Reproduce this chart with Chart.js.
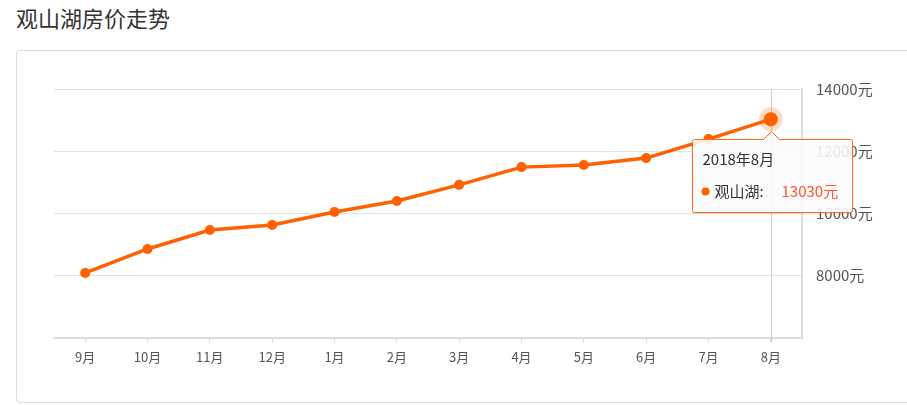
<!DOCTYPE html>
<html>
<head>
<meta charset="utf-8">
<script src="https://cdn.jsdelivr.net/npm/chart.js@4/dist/chart.umd.min.js"></script>
<style>
  body { margin: 0; background: #fff; font-family: "Noto Sans CJK SC", "Noto Sans", sans-serif; }
  #wrap { position: relative; width: 907px; height: 405px; overflow: hidden; }
  #title { position: absolute; left: 16px; top: 4px; font-size: 22px; line-height: 26px; color: #333; }
  #card { position: absolute; left: 16px; top: 50px; width: 1000px; height: 351px; border: 1px solid #ddd; border-radius: 4px; }
  #chart { position: absolute; left: 0; top: 0; }
</style>
</head>
<body>
<div id="wrap">
  <div id="title">观山湖房价走势</div>
  <div id="card"></div>
  <canvas id="chart" width="907" height="405"></canvas>
</div>
<script>
const months = ['9月', '10月', '11月', '12月', '1月', '2月', '3月', '4月', '5月', '6月', '7月', '8月'];
const fullMonths = ['2017年9月', '2017年10月', '2017年11月', '2017年12月', '2018年1月', '2018年2月',
  '2018年3月', '2018年4月', '2018年5月', '2018年6月', '2018年7月', '2018年8月'];
const prices = [8090, 8860, 9470, 9630, 10050, 10400, 10920, 11490, 11560, 11780, 12390, 13030];
const yTicks = [6000, 8000, 10000, 12000, 14000];
const seriesName = '观山湖';
const activeIndex = 11;

const orange = '#ff6000';
const font = '"Noto Sans CJK SC", "Noto Sans", sans-serif';

// vertical line at the hovered month
const crosshair = {
  id: 'crosshair',
  beforeDatasetsDraw(chart) {
    const el = chart.getDatasetMeta(0).data[activeIndex];
    const ctx = chart.ctx, area = chart.chartArea;
    ctx.save();
    ctx.strokeStyle = '#ccc';
    ctx.lineWidth = 1;
    ctx.beginPath();
    ctx.moveTo(Math.round(el.x) + 0.5, area.top);
    ctx.lineTo(Math.round(el.x) + 0.5, area.bottom + 4);
    ctx.stroke();
    ctx.restore();
  }
};

// tooltip box under the point
const tipBox = {
  id: 'tipBox',
  afterDraw(chart) {
    const el = chart.getDatasetMeta(0).data[activeIndex];
    const ctx = chart.ctx;
    const w = 160, h = 73;
    const left = Math.round(el.x) - 79 + 0.5;
    const top = Math.round(el.y) + 20 + 0.5;
    const cx = Math.round(el.x) + 0.5;
    ctx.save();
    ctx.shadowColor = 'rgba(0,0,0,0.15)';
    ctx.shadowBlur = 3;
    ctx.shadowOffsetY = 1;
    ctx.beginPath();
    ctx.moveTo(left + 2, top);
    ctx.lineTo(cx - 8, top);
    ctx.lineTo(cx, top - 8);
    ctx.lineTo(cx + 8, top);
    ctx.lineTo(left + w - 2, top);
    ctx.quadraticCurveTo(left + w, top, left + w, top + 2);
    ctx.lineTo(left + w, top + h - 2);
    ctx.quadraticCurveTo(left + w, top + h, left + w - 2, top + h);
    ctx.lineTo(left + 2, top + h);
    ctx.quadraticCurveTo(left, top + h, left, top + h - 2);
    ctx.lineTo(left, top + 2);
    ctx.quadraticCurveTo(left, top, left + 2, top);
    ctx.closePath();
    ctx.fillStyle = 'rgba(255,255,255,0.88)';
    ctx.fill();
    ctx.shadowColor = 'transparent';
    ctx.strokeStyle = '#ff6a1a';
    ctx.lineWidth = 1;
    ctx.stroke();

    ctx.textBaseline = 'middle';
    ctx.font = '15px ' + font;
    ctx.fillStyle = '#333';
    ctx.fillText(fullMonths[activeIndex], left + 10, top + 20);

    ctx.beginPath();
    ctx.arc(left + 13, top + 52, 4, 0, Math.PI * 2);
    ctx.fillStyle = orange;
    ctx.fill();
    ctx.fillStyle = '#333';
    ctx.fillText(seriesName + ':', left + 22, top + 52);
    ctx.fillStyle = '#ff5533';
    ctx.fillText(prices[activeIndex] + '元', left + 89, top + 52);
    ctx.restore();
  }
};

const chart = new Chart(document.getElementById('chart'), {
  type: 'line',
  data: {
    labels: months,
    datasets: [{
      label: seriesName,
      data: prices,
      borderColor: orange,
      backgroundColor: orange,
      borderWidth: 3.5,
      pointRadius: 5,
      pointBackgroundColor: orange,
      pointBorderWidth: 0,
      pointHoverRadius: 7,
      pointHoverBackgroundColor: orange,
      pointHoverBorderColor: 'rgba(255,96,0,0.22)',
      pointHoverBorderWidth: 10,
      tension: 0
    }]
  },
  options: {
    responsive: false,
    animation: false,
    events: [],
    layout: { padding: { left: 54, top: 89, right: 0, bottom: 0 } },
    plugins: {
      legend: { display: false },
      tooltip: { enabled: false }
    },
    scales: {
      x: {
        offset: true,
        afterFit(scale) { scale.height = 67; },
        grid: { offset: false, drawOnChartArea: false, drawTicks: true, tickLength: 5, color: '#ddd' },
        border: { color: '#ddd', width: 2 },
        ticks: { color: '#555', font: { size: 13, family: font }, padding: 6, maxRotation: 0, autoSkip: false }
      },
      y: {
        position: 'right',
        min: 6000,
        max: 14000,
        afterBuildTicks(scale) { scale.ticks = yTicks.map(v => ({ value: v })); },
        afterFit(scale) { scale.width = 105; },
        grid: { color: '#e2e2e2', drawTicks: false },
        border: { color: '#ddd', width: 2 },
        ticks: {
          color: '#555',
          font: { size: 15, family: font },
          padding: 14,
          callback: v => v === yTicks[0] ? '' : v + '元'
        }
      }
    }
  },
  plugins: [crosshair, tipBox]
});

chart.setActiveElements([{ datasetIndex: 0, index: activeIndex }]);
chart.update('none');
</script>
</body>
</html>
